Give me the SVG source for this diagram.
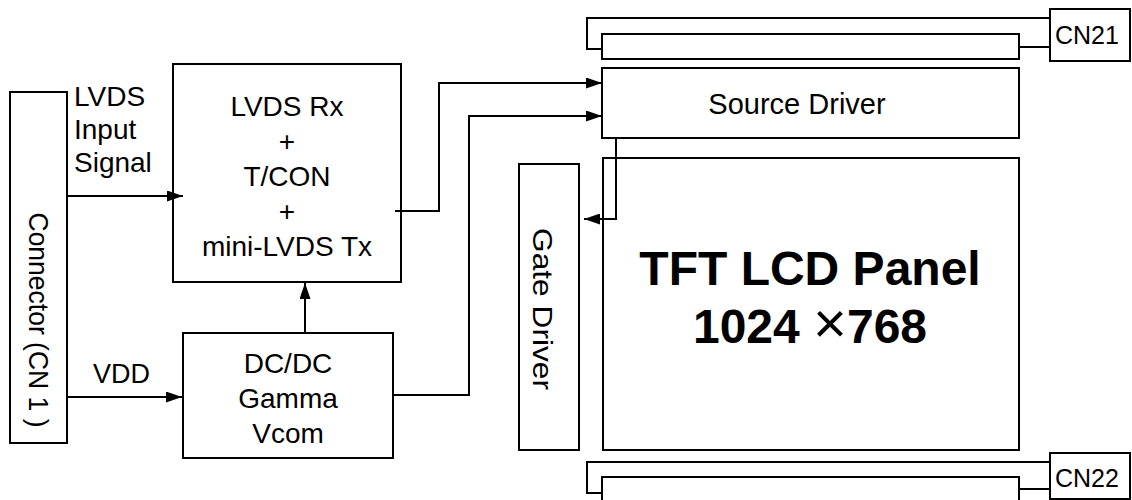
<svg xmlns="http://www.w3.org/2000/svg" width="1132" height="500" viewBox="0 0 1132 500">
<defs>
<style>
.box{fill:#fff;stroke:#000;stroke-width:2}
.ln{fill:none;stroke:#000;stroke-width:2}
.t{font-family:"Liberation Sans",Arial,sans-serif;font-size:28px;fill:#000}
.c{text-anchor:middle}
.big{font-family:"Liberation Sans",Arial,sans-serif;font-size:48px;font-weight:bold;fill:#000;text-anchor:middle}
</style>
<marker id="ah" markerUnits="userSpaceOnUse" viewBox="0 0 16 11" markerWidth="16" markerHeight="11" refX="16" refY="5.5" orient="auto">
<path d="M0,0 L16,5.5 L0,11 z" fill="#000"/>
</marker>
</defs>
<rect width="1132" height="500" fill="#fff"/>

<g id="cn1">
<rect class="box" x="10" y="92" width="57" height="351"/>
<text class="t c" transform="translate(29,320) rotate(90)" textLength="215" lengthAdjust="spacingAndGlyphs">Connector (CN 1 )</text>
</g>

<g id="lvds-label">
<text class="t" x="74" y="106">LVDS</text>
<text class="t" x="74" y="139">Input</text>
<text class="t" x="74" y="172">Signal</text>
</g>

<g id="vdd-label">
<text class="t" x="93" y="383" style="font-size:27px">VDD</text>
</g>

<g id="tcon">
<rect class="box" x="173" y="64" width="228" height="218"/>
<text class="t c" x="287" y="116">LVDS Rx</text>
<text class="t c" x="287" y="151">+</text>
<text class="t c" x="287" y="186">T/CON</text>
<text class="t c" x="287" y="221">+</text>
<text class="t c" x="287" y="256">mini-LVDS Tx</text>
</g>

<g id="dcdc">
<rect class="box" x="183" y="333" width="210" height="125"/>
<text class="t c" x="288" y="373">DC/DC</text>
<text class="t c" x="288" y="408">Gamma</text>
<text class="t c" x="288" y="443">Vcom</text>
</g>

<g id="gate-driver">
<rect class="box" x="519" y="164" width="60" height="286"/>
<text class="t c" transform="translate(533,309) rotate(90)" textLength="162" lengthAdjust="spacingAndGlyphs">Gate Driver</text>
</g>

<g id="source-pcb">
<rect class="box" x="602" y="34" width="417" height="25"/>
</g>

<g id="source-driver">
<rect class="box" x="602" y="68" width="417" height="70"/>
<text class="t c" x="797" y="114" style="font-size:29px">Source Driver</text>
</g>

<g id="panel">
<rect class="box" x="603" y="158" width="416" height="292"/>
<text class="big" x="810" y="285">TFT LCD Panel</text>
<text class="big" x="810" y="343">1024 <tspan style="font-weight:normal;font-size:58px">×</tspan>768</text>
</g>

<g id="gate-pcb">
<rect class="box" x="602" y="477" width="417" height="40"/>
</g>

<g id="cn21">
<rect class="box" x="1050" y="9" width="80" height="52"/>
<text class="t" x="1055" y="44" style="font-size:25px">CN21</text>
</g>

<g id="cn22">
<rect class="box" x="1050" y="453" width="80" height="46"/>
<text class="t" x="1055" y="487" style="font-size:25px">CN22</text>
</g>

<g id="connectors">
<path class="ln" d="M67,196 H183" marker-end="url(#ah)"/>
<path class="ln" d="M67,397 H182" marker-end="url(#ah)"/>
<path class="ln" d="M305,333 V283" marker-end="url(#ah)"/>
<path class="ln" d="M395,211 H439 V83 H602" marker-end="url(#ah)"/>
<path class="ln" d="M393,395 H469 V116 H602" marker-end="url(#ah)"/>
<path class="ln" d="M616,138 V219 H584" marker-end="url(#ah)"/>
<path class="ln" d="M1050,18 H587 V49 H602"/>
<path class="ln" d="M1019,47 H1050"/>
<path class="ln" d="M1050,462 H587 V493 H602"/>
<path class="ln" d="M1019,489 H1050"/>
</g>
</svg>
